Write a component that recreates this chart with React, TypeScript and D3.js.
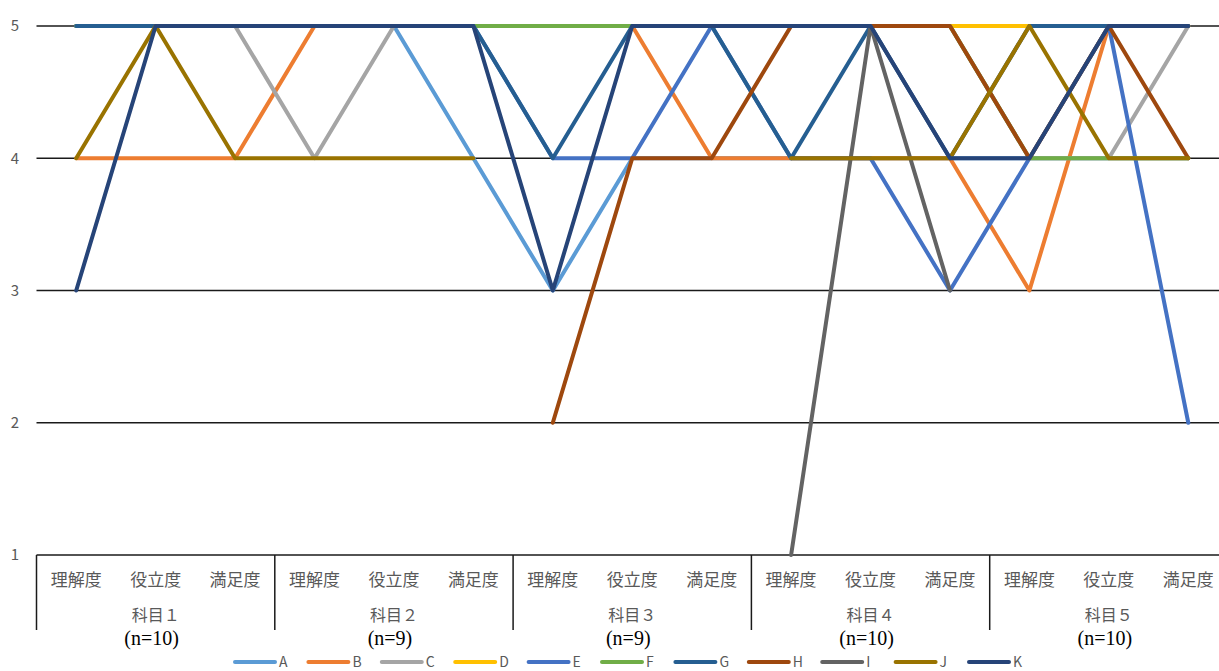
import React from 'react';
import * as d3 from 'd3';

const measures = ['理解度', '役立度', '満足度'];
const subjects = ['科目１', '科目２', '科目３', '科目４', '科目５'];
const sampleSizes = ['(n=10)', '(n=9)', '(n=9)', '(n=10)', '(n=10)'];
const yTicks = [1, 2, 3, 4, 5];
const seriesNames = ['A', 'B', 'C', 'D', 'E', 'F', 'G', 'H', 'I', 'J', 'K'];
const seriesColors = ['#5B9BD5', '#ED7D31', '#A5A5A5', '#FFC000', '#4472C4', '#70AD47', '#255E91', '#9E480E', '#636363', '#997300', '#264478'];

const A = [5, 5, 5, 5, 5, 4, 3, 4, 4, 4, 4, 4, 4, 4, 4];
const B = [4, 4, 4, 5, 5, 5, 5, 5, 4, 4, 4, 4, 3, 5, 5];
const C = [5, 5, 5, 4, 5, 5, 5, 5, 5, 5, 5, 5, 4, 4, 5];
const D = [5, 5, 5, 5, 5, 5, 5, 5, 5, 5, 5, 5, 5, 5, 5];
const E = [5, 5, 5, 5, 5, 5, 4, 4, 5, 4, 4, 3, 4, 5, 2];
const F = [5, 5, 5, 5, 5, 5, 5, 5, 5, 5, 5, 5, 4, 4, 4];
const G = [5, 5, 5, 5, 5, 5, 4, 5, 5, 4, 5, 4, 5, 5, 5];
const H = [null, null, null, null, null, null, 2, 4, 4, 5, 5, 5, 4, 5, 4];
const I = [null, null, null, null, null, null, null, null, null, 1, 5, 3, null, null, null];
const J = [4, 5, 4, 4, 4, 4, null, null, null, 4, 4, 4, 5, 4, 4];
const K = [3, 5, 5, 5, 5, 5, 3, 5, 5, 5, 5, 4, 4, 5, 5];

const seriesValues = [A, B, C, D, E, F, G, H, I, J, K];

const W = 1219;
const H_ = 671;

export default function App() {
  const categories = subjects.flatMap((s, si) => measures.map((m, mi) => `${si}-${mi}`));
  const x = d3.scaleBand<string>().domain(categories).range([36.5, 1228]).paddingInner(0).paddingOuter(0);
  const bw = x.bandwidth();
  const cx = (i: number) => (x(categories[i]) as number) + bw / 2;
  const y = d3.scaleLinear().domain([1, 5]).range([555, 26]);

  const line = d3
    .line<number | null>()
    .defined((d) => d !== null)
    .x((_d, i) => cx(i))
    .y((d) => y(d as number));

  const gridX0 = 36.5;
  const gridX1 = 1228;
  const gray = '#595959';

  return (
    <div style={{ position: 'absolute', left: 0, top: 0 }}>
      <svg width={W} height={H_} style={{ display: 'block', background: '#fff' }}>
        {yTicks.map((t) => (
          <g key={t}>
            <line x1={gridX0} x2={gridX1} y1={y(t)} y2={y(t)} stroke="#1a1a1a" strokeWidth={1.5} />
            <text
              x={15}
              y={y(t)}
              dy="0.35em"
              textAnchor="middle"
              fontFamily="'Noto Sans CJK JP', 'Noto Sans', sans-serif"
              fontSize={15}
              fill={gray}
            >
              {t}
            </text>
          </g>
        ))}
        {subjects.map((s, si) => (
          <line
            key={'sep' + si}
            x1={x(categories[si * 3]) as number}
            x2={x(categories[si * 3]) as number}
            y1={y(1)}
            y2={630}
            stroke="#1a1a1a"
            strokeWidth={1.5}
          />
        ))}
        {categories.map((c, i) => (
          <text
            key={'cat' + c}
            x={cx(i)}
            y={580}
            dy="0.35em"
            textAnchor="middle"
            fontFamily="'Noto Sans CJK JP', sans-serif"
            fontSize={17}
            fill={gray}
          >
            {measures[i % 3]}
          </text>
        ))}
        {subjects.map((s, si) => {
          const gx = (x(categories[si * 3]) as number) + (bw * 3) / 2;
          return (
            <g key={'sub' + si}>
              <text
                x={gx}
                y={615}
                dy="0.35em"
                textAnchor="middle"
                fontFamily="'Noto Sans CJK JP', sans-serif"
                fontSize={16}
                fill={gray}
              >
                {s}
              </text>
              <text
                x={gx - 4}
                y={638}
                dy="0.35em"
                textAnchor="middle"
                fontFamily="'Liberation Serif', 'DejaVu Serif', serif"
                fontSize={20}
                fill="#000"
              >
                {sampleSizes[si]}
              </text>
            </g>
          );
        })}
        {seriesValues.map((vals, si) => (
          <path
            key={'s' + si}
            d={line(vals) || ''}
            fill="none"
            stroke={seriesColors[si]}
            strokeWidth={4}
            strokeLinecap="round"
            strokeLinejoin="round"
          />
        ))}
        {seriesNames.map((n, i) => {
          const lx = 233 + i * 73.4;
          const ly = 662;
          return (
            <g key={'lg' + n}>
              <line x1={lx + 2} x2={lx + 42} y1={ly} y2={ly} stroke={seriesColors[i]} strokeWidth={4} strokeLinecap="round" />
              <text
                x={lx + 46}
                y={ly}
                dy="0.35em"
                fontFamily="'Noto Sans CJK JP', 'Noto Sans', sans-serif"
                fontSize={14}
                fill={gray}
              >
                {n}
              </text>
            </g>
          );
        })}
      </svg>
    </div>
  );
}
